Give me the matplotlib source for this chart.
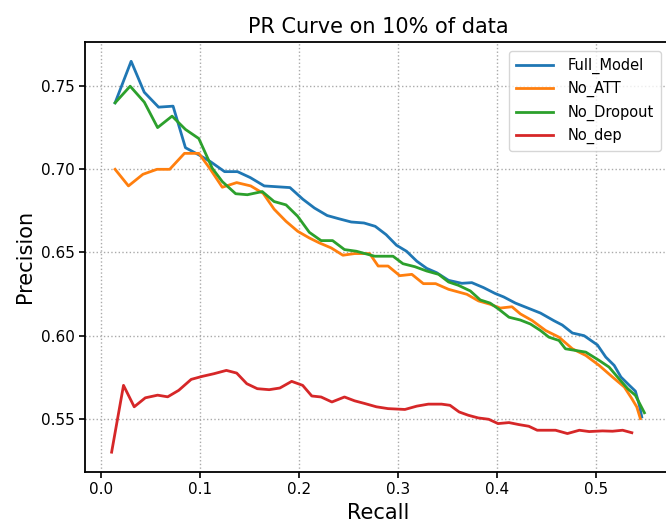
import matplotlib
matplotlib.use('Agg')
import matplotlib.pyplot as plt

# 各模型的召回率/精确率
full_recall = [0.0145, 0.0307, 0.0439, 0.0584, 0.073, 0.0855, 0.099, 0.111, 0.125, 0.138, 0.151, 0.165,
               0.178, 0.191, 0.204, 0.2157, 0.2285, 0.240, 0.2528, 0.2657, 0.277, 0.288, 0.2985, 0.3086,
               0.319, 0.329, 0.339, 0.351, 0.3644, 0.3745, 0.3864, 0.398, 0.4067, 0.4185, 0.432, 0.4438,
               0.4574, 0.4658, 0.476, 0.4878, 0.5013, 0.5097, 0.5182, 0.525, 0.5335, 0.5396, 0.5436, 0.546]
full_prec = [0.740, 0.765, 0.7464, 0.7374, 0.738, 0.713, 0.7087, 0.7045, 0.6986, 0.6986, 0.695, 0.690,
             0.6895, 0.689, 0.682, 0.6767, 0.6722, 0.6703, 0.6683, 0.6677, 0.6657, 0.6607, 0.6543, 0.6507,
             0.6447, 0.6404, 0.6378, 0.6332, 0.6314, 0.6318, 0.6288, 0.6253, 0.6232, 0.6195, 0.6163, 0.6135,
             0.6089, 0.6063, 0.6015, 0.5999, 0.5943, 0.587, 0.582, 0.575, 0.570, 0.5665, 0.558, 0.551]

noatt_recall = [0.0145, 0.028, 0.0426, 0.0568, 0.0696, 0.0845, 0.099, 0.110, 0.1227, 0.1372, 0.1514, 0.164,
                0.175, 0.187, 0.1988, 0.2105, 0.2207, 0.2326, 0.2444, 0.2562, 0.2714, 0.280, 0.290, 0.3018,
                0.314, 0.3256, 0.338, 0.351, 0.3695, 0.3813, 0.393, 0.4032, 0.415, 0.4235, 0.4354, 0.449,
                0.4625, 0.476, 0.4895, 0.503, 0.5165, 0.5284, 0.536, 0.541, 0.5446]
noatt_prec = [0.700, 0.690, 0.697, 0.700, 0.700, 0.7096, 0.7096, 0.7006, 0.6892, 0.692, 0.690, 0.6855,
              0.676, 0.6687, 0.6627, 0.6587, 0.6557, 0.6527, 0.6483, 0.6493, 0.6493, 0.6418, 0.6418, 0.636,
              0.6368, 0.6312, 0.6312, 0.6278, 0.6248, 0.6208, 0.6188, 0.6165, 0.6173, 0.613, 0.609, 0.603,
              0.599, 0.592, 0.588, 0.582, 0.575, 0.569, 0.562, 0.557, 0.550]

nodrop_recall = [0.0145, 0.0297, 0.044, 0.0574, 0.072, 0.0855, 0.099, 0.1126, 0.1227, 0.1362, 0.148, 0.163,
                 0.175, 0.187, 0.1988, 0.2105, 0.2224, 0.234, 0.246, 0.258, 0.2765, 0.295, 0.305, 0.317,
                 0.329, 0.341, 0.351, 0.361, 0.373, 0.383, 0.393, 0.4016, 0.412, 0.4235, 0.4337, 0.4438,
                 0.4523, 0.4625, 0.469, 0.4895, 0.503, 0.513, 0.523, 0.5318, 0.5396, 0.5487]
nodrop_prec = [0.740, 0.750, 0.7404, 0.7251, 0.732, 0.724, 0.7185, 0.7006, 0.6926, 0.6853, 0.6847, 0.6866,
               0.6806, 0.6786, 0.6717, 0.6621, 0.6571, 0.6571, 0.6517, 0.6507, 0.6477, 0.6477, 0.6432, 0.6414,
               0.6388, 0.6368, 0.6322, 0.6302, 0.6268, 0.6214, 0.6195, 0.6159, 0.611, 0.6093, 0.6069, 0.603,
               0.599, 0.597, 0.592, 0.590, 0.585, 0.581, 0.574, 0.568, 0.564, 0.5535]

nodep_recall = [0.011, 0.023, 0.0338, 0.045, 0.0574, 0.0676, 0.0787, 0.0913, 0.1024, 0.1142, 0.1268, 0.1372,
                0.1474, 0.158, 0.170, 0.1808, 0.1927, 0.2038, 0.213, 0.2224, 0.2333, 0.246, 0.2562, 0.2663,
                0.2782, 0.290, 0.307, 0.319, 0.3306, 0.344, 0.3525, 0.3617, 0.371, 0.381, 0.3915, 0.401,
                0.412, 0.422, 0.432, 0.4405, 0.459, 0.471, 0.483, 0.493, 0.5064, 0.5165, 0.5267, 0.536]
nodep_prec = [0.5298, 0.570, 0.5571, 0.5625, 0.5641, 0.5631, 0.567, 0.5736, 0.5754, 0.577, 0.579, 0.5774,
              0.571, 0.568, 0.5674, 0.5684, 0.5724, 0.570, 0.5636, 0.563, 0.560, 0.563, 0.5607, 0.5591,
              0.5571, 0.556, 0.5555, 0.5575, 0.5587, 0.5587, 0.558, 0.554, 0.552, 0.5504, 0.5496, 0.547,
              0.5476, 0.5464, 0.5454, 0.543, 0.543, 0.541, 0.543, 0.5422, 0.5426, 0.5424, 0.543, 0.5415]

fig = plt.figure(figsize=(6.66, 5.25), dpi=100)
# 右边框在原图里被裁掉了
ax = fig.add_axes([0.1276, 0.1015, 0.88, 0.819])

# 画PR曲线
ax.plot(full_recall, full_prec, color='tab:blue', lw=2, label='Full_Model')
ax.plot(noatt_recall, noatt_prec, color='tab:orange', lw=2, label='No_ATT')
ax.plot(nodrop_recall, nodrop_prec, color='tab:green', lw=2, label='No_Dropout')
ax.plot(nodep_recall, nodep_prec, color='tab:red', lw=2, label='No_dep')

ax.grid(True, linestyle=':', color='#aaaaaa', linewidth=1.0)
ax.set_xlabel('Recall', fontsize=15)
ax.set_ylabel('Precision', fontsize=15)
ax.set_title('PR Curve on 10% of data', fontsize=15)
ax.tick_params(labelsize=11, width=1.2, length=4)
for s in ax.spines.values():
    s.set_linewidth(1.3)
ax.legend(loc='upper right', fontsize=10.5, labelspacing=0.5, handlelength=2.6,
          handletextpad=1.0, borderpad=0.45, bbox_to_anchor=(0.995, 0.995))

fig.savefig('out.png', dpi=100)
